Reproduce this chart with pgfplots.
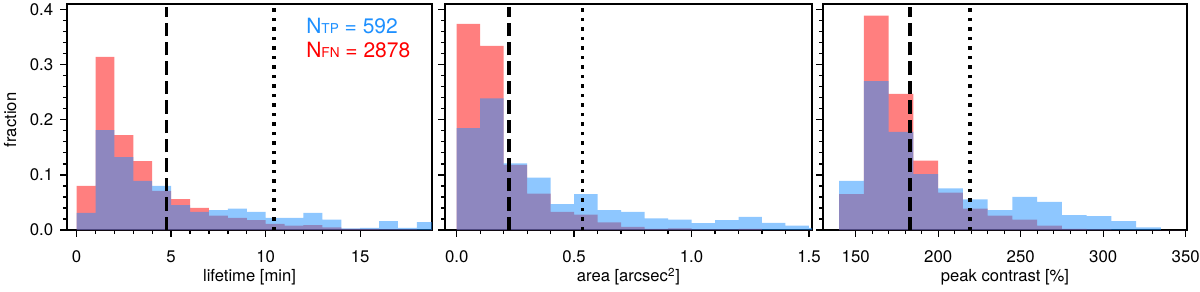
\documentclass[border=0pt]{standalone}
\usepackage{fontspec}
\setmainfont{TeX Gyre Heros}
\usepackage{pgfplots}
\pgfplotsset{compat=1.18}
\definecolor{tpblue}{RGB}{30,144,255}
\definecolor{fnred}{RGB}{255,0,0}
\pgfplotsset{
  histax/.style={
    scale only axis, height=113pt, ymin=0, ymax=0.41,
    axis line style={line width=1pt},
    tick align=outside, tick pos=left,
    major tick length=3.4pt, minor tick length=2pt,
    every tick/.style={black, line width=0.65pt},
    minor x tick num=4, minor y tick num=4,
    ytick={0,0.1,0.2,0.3,0.4},
    /pgf/number format/assume math mode=true,
    tick label style={font=\fontsize{8.4}{9}\selectfont},
    label style={font=\fontsize{8.3}{9}\selectfont},
    xticklabel style={yshift=-3.5pt},
    xlabel style={at={(axis description cs:0.5,-0.230)}, anchor=base},
    ylabel style={at={(axis description cs:-0.156,0.487)}, anchor=center},
  },
  fnbar/.style={ybar interval, draw=none, fill=fnred, fill opacity=0.5},
  tpbar/.style={ybar interval, draw=none, fill=tpblue, fill opacity=0.5},
  dashln/.style={black, line width=1.8pt, dash pattern=on 6.7pt off 3pt},
  dotln/.style={black, line width=1.7pt, dash pattern=on 1.7pt off 3.05pt},
}
\begin{document}
\begin{tikzpicture}
\path[use as bounding box] (0,0) rectangle (600pt,145.5pt);
% Panel 1: lifetime
\begin{axis}[histax, at={(33.5pt,30.5pt)}, anchor=south west, width=182.5pt,
  xmin=-0.51, xmax=18.8, xtick={0,5,10,15},
  yticklabel style={/pgf/number format/fixed, /pgf/number format/fixed zerofill, /pgf/number format/precision=1},
  xlabel={lifetime [min]}, ylabel={fraction}]
\addplot[fnbar] coordinates {(0,0.080) (1,0.314) (2,0.172) (3,0.125) (4,0.071) (5,0.056) (6,0.040) (7,0.026) (8,0.022) (9,0.018) (10,0.011) (11,0.008) (12,0.009) (13,0.005) (14,0.002) (15,0.002) (16,0.001) (17,0.001) (18,0.0) (19,0.0)};
\addplot[tpbar] coordinates {(0,0.031) (1,0.181) (2,0.132) (3,0.089) (4,0.080) (5,0.045) (6,0.033) (7,0.036) (8,0.039) (9,0.033) (10,0.022) (11,0.022) (12,0.031) (13,0.019) (14,0.003) (15,0.004) (16,0.016) (17,0.004) (18,0.0145) (19,0.0145)};
\addplot[dashln] coordinates {(4.76,0) (4.76,0.404)};
\addplot[dotln] coordinates {(10.44,0) (10.44,0.404)};
\node[anchor=base west, text=tpblue, font=\fontsize{10.5}{12}\selectfont, inner sep=0pt] at (axis cs:12.13,0.357) {N{\fontsize{6.8}{7}\selectfont TP} = 592};
\node[anchor=base west, text=fnred, font=\fontsize{10.5}{12}\selectfont, inner sep=0pt] at (axis cs:12.13,0.313) {N{\fontsize{6.8}{7}\selectfont FN} = 2878};
\end{axis}
% Panel 2: area
\begin{axis}[histax, at={(222.5pt,30.5pt)}, anchor=south west, width=183.5pt,
  xmin=-0.05, xmax=1.513, xtick={0,0.5,1.0,1.5},
  xticklabel style={/pgf/number format/fixed, /pgf/number format/fixed zerofill, /pgf/number format/precision=1},
  yticklabels={}, xlabel={area [arcsec\textsuperscript{2}]}]
\addplot[fnbar] coordinates {(0,0.374) (0.1,0.334) (0.2,0.118) (0.3,0.066) (0.4,0.033) (0.5,0.028) (0.6,0.014) (0.7,0.0055) (0.8,0.002) (0.9,0.003) (1.0,0.001) (1.1,0.001) (1.2,0.002) (1.3,0.0) (1.4,0.0) (1.5,0.0) (1.6,0.0)};
\addplot[tpbar] coordinates {(0,0.185) (0.1,0.239) (0.2,0.121) (0.3,0.095) (0.4,0.047) (0.5,0.065) (0.6,0.036) (0.7,0.033) (0.8,0.021) (0.9,0.019) (1.0,0.0127) (1.1,0.018) (1.2,0.024) (1.3,0.013) (1.4,0.0078) (1.5,0.004) (1.6,0.004)};
\addplot[dashln] coordinates {(0.223,0) (0.223,0.404)};
\addplot[dotln] coordinates {(0.536,0) (0.536,0.404)};
\end{axis}
% Panel 3: peak contrast
\begin{axis}[histax, at={(411.5pt,30.5pt)}, anchor=south west, width=182pt,
  xmin=130.2, xmax=350.8, xtick={150,200,250,300,350},
  yticklabels={}, xlabel={peak contrast [\%]}]
\addplot[fnbar] coordinates {(140,0.065) (155,0.389) (170,0.247) (185,0.126) (200,0.068) (215,0.039) (230,0.026) (245,0.019) (260,0.008) (275,0.002) (290,0.001) (305,0.0) (320,0.0) (335,0.0) (350,0.0)};
\addplot[tpbar] coordinates {(140,0.089) (155,0.270) (170,0.178) (185,0.1015) (200,0.0755) (215,0.0556) (230,0.036) (245,0.060) (260,0.051) (275,0.027) (290,0.025) (305,0.016) (320,0.005) (335,0.0) (350,0.0)};
\addplot[dashln] coordinates {(182.9,0) (182.9,0.404)};
\addplot[dotln] coordinates {(219.3,0) (219.3,0.404)};
\end{axis}
\end{tikzpicture}
\end{document}
